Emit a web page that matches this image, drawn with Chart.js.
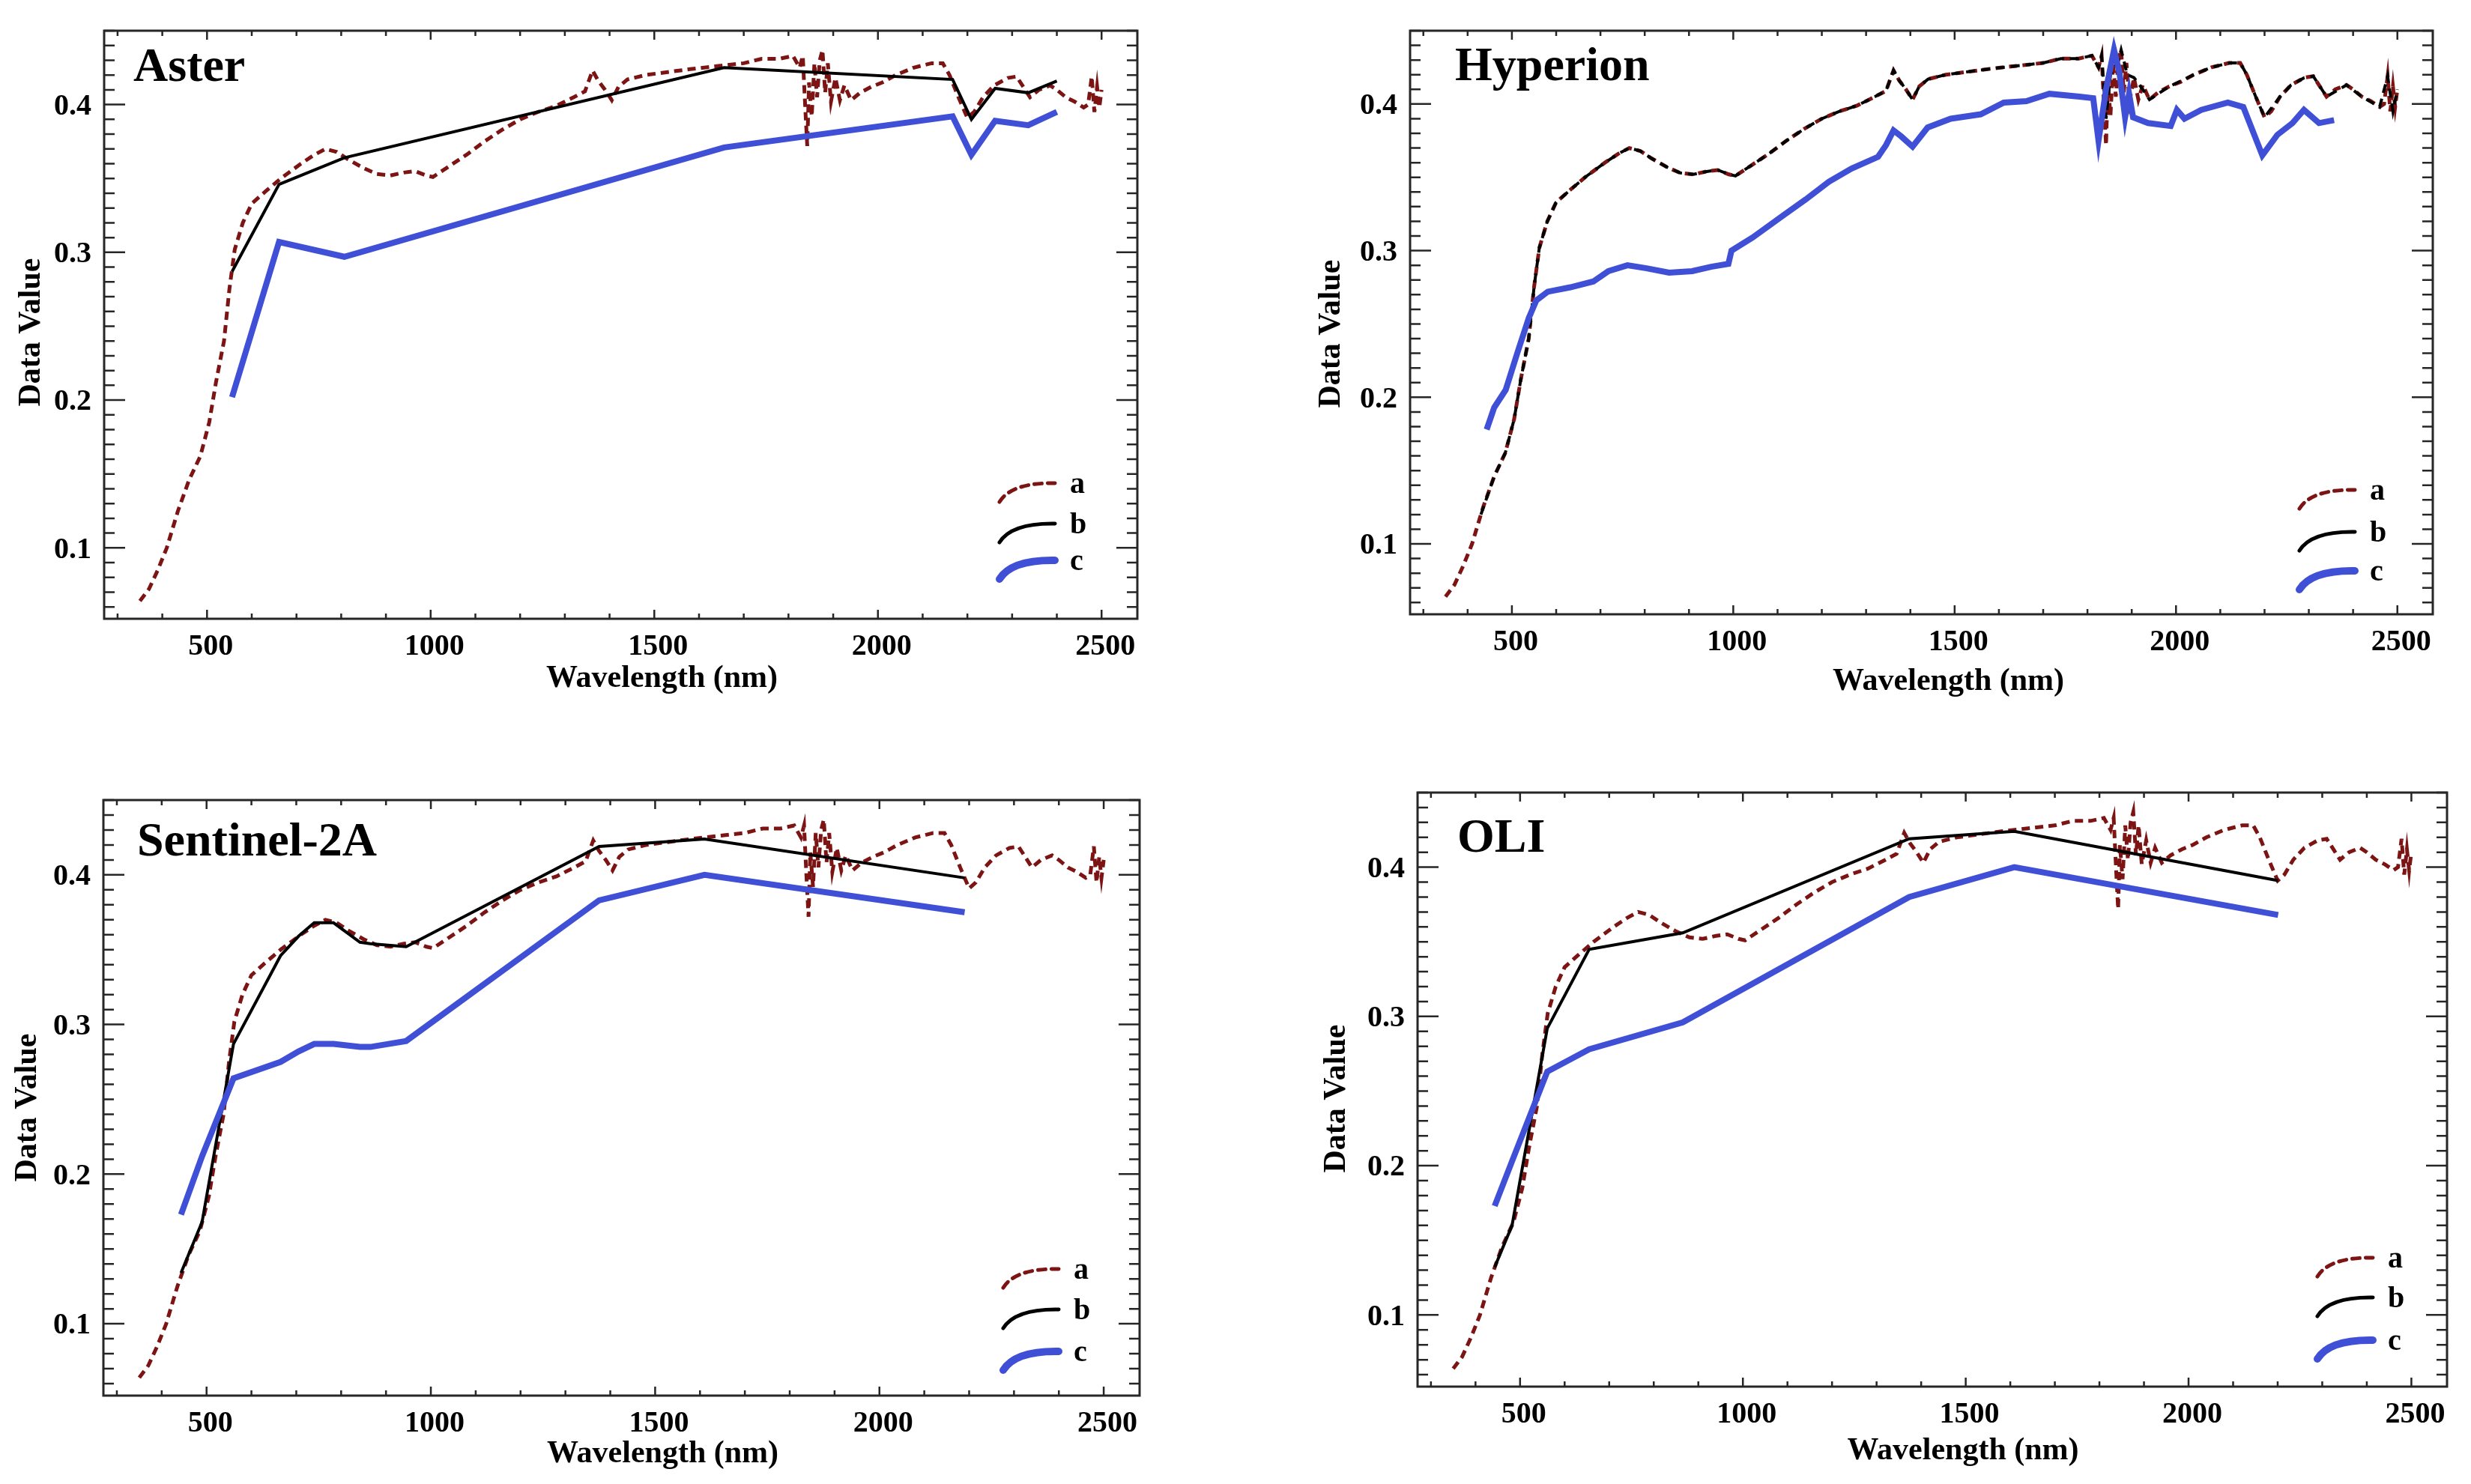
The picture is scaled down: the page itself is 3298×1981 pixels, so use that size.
<!DOCTYPE html>
<html>
<head>
<meta charset="utf-8">
<script src="https://cdn.jsdelivr.net/npm/chart.js@4.4.1/dist/chart.umd.min.js"></script>
<style>
  html, body { margin: 0; padding: 0; background: #fff; }
  #fig { position: relative; width: 3298px; height: 1981px; overflow: hidden; }
  #fig canvas { position: absolute; }
</style>
</head>
<body>
<div id="fig"></div>
<script>
// ---- shared spectrum (a) ----
const spectrumNm = [350, 370, 390, 410, 435, 460, 485, 505, 520, 538, 550, 562, 580, 600, 630, 665, 710, 740, 765, 790,
    815, 850, 880, 910, 940, 965, 990, 1005, 1040, 1080, 1120, 1160, 1200, 1240, 1280, 1320, 1345, 1362, 1375, 1390,
    1405, 1420, 1440, 1480, 1530, 1580, 1640, 1700, 1740, 1780, 1810, 1825, 1832, 1838, 1842, 1846, 1852, 1858, 1864, 1870,
    1876, 1882, 1888, 1895, 1905, 1915, 1925, 1940, 1960, 1985, 2010, 2040, 2080, 2120, 2145, 2160, 2180, 2200, 2215, 2235,
    2260, 2290, 2310, 2325, 2340, 2360, 2385, 2400, 2420, 2440, 2460, 2470, 2478, 2484, 2490, 2495, 2500];
const spectrumA = [0.064, 0.072, 0.085, 0.100, 0.125, 0.146, 0.162, 0.185, 0.212, 0.240, 0.275, 0.302, 0.320, 0.333, 0.341, 0.350, 0.360, 0.366, 0.370, 0.368,
    0.363, 0.357, 0.353, 0.352, 0.354, 0.355, 0.352, 0.351, 0.358, 0.366, 0.375, 0.383, 0.390, 0.395, 0.399, 0.405, 0.409, 0.423, 0.416, 0.410,
    0.403, 0.412, 0.417, 0.420, 0.422, 0.424, 0.426, 0.428, 0.431, 0.431, 0.433, 0.425, 0.433, 0.395, 0.372, 0.415, 0.392, 0.428, 0.405, 0.430,
    0.437, 0.408, 0.428, 0.402, 0.418, 0.403, 0.413, 0.403, 0.408, 0.412, 0.415, 0.420, 0.425, 0.428, 0.428, 0.420, 0.405, 0.391, 0.395, 0.405,
    0.413, 0.418, 0.419, 0.412, 0.405, 0.410, 0.413, 0.410, 0.405, 0.402, 0.398, 0.400, 0.419, 0.395, 0.412, 0.398, 0.410];

// ---- Aster ----
const asterBands = [556, 661, 807, 1656, 2167, 2209, 2262, 2336, 2400];
const asterB = [0.287, 0.346, 0.364, 0.425, 0.417, 0.390, 0.411, 0.408, 0.416];
const asterC = [0.202, 0.307, 0.297, 0.371, 0.392, 0.366, 0.389, 0.386, 0.395];

// ---- Hyperion ----
const hyperionBandsB = [430, 460, 485, 505, 520, 538, 550, 562, 580, 600, 630, 665, 710, 740, 765, 790, 815, 850, 880, 910,
    940, 965, 990, 1005, 1040, 1080, 1120, 1160, 1200, 1240, 1280, 1320, 1345, 1362, 1375, 1390, 1405, 1420, 1440, 1480,
    1530, 1580, 1640, 1700, 1740, 1780, 1810, 1825, 1832, 1842, 1852, 1870, 1876, 1890, 1905, 1925, 1940, 1985, 2040, 2080,
    2120, 2145, 2160, 2180, 2200, 2235, 2260, 2290, 2310, 2325, 2340, 2385, 2420, 2460, 2478, 2490, 2500];
const hyperionB = [0.120, 0.146, 0.162, 0.185, 0.212, 0.240, 0.275, 0.302, 0.320, 0.333, 0.341, 0.350, 0.360, 0.366, 0.370, 0.368, 0.363, 0.357, 0.353, 0.352,
    0.354, 0.355, 0.352, 0.351, 0.358, 0.366, 0.375, 0.383, 0.390, 0.395, 0.399, 0.405, 0.409, 0.423, 0.416, 0.410, 0.403, 0.412, 0.417, 0.420,
    0.422, 0.424, 0.426, 0.428, 0.431, 0.431, 0.433, 0.425, 0.433, 0.390, 0.420, 0.430, 0.437, 0.420, 0.418, 0.410, 0.403, 0.412, 0.420, 0.425,
    0.428, 0.428, 0.420, 0.405, 0.391, 0.405, 0.413, 0.418, 0.419, 0.412, 0.405, 0.413, 0.405, 0.398, 0.419, 0.395, 0.410];
const hyperionBandsC = [443, 460, 486, 512, 538, 555, 581, 632, 684, 718, 761, 804, 855, 907, 950, 989, 996, 1044, 1113, 1164,
    1216, 1267, 1327, 1345, 1362, 1379, 1405, 1439, 1491, 1559, 1611, 1662, 1714, 1782, 1813, 1825, 1842, 1860, 1872, 1885,
    1894, 1903, 1937, 1988, 2002, 2019, 2057, 2117, 2152, 2195, 2229, 2263, 2289, 2323, 2357];
const hyperionC = [0.178, 0.193, 0.205, 0.230, 0.254, 0.266, 0.272, 0.275, 0.279, 0.286, 0.290, 0.288, 0.285, 0.286, 0.289, 0.291, 0.300, 0.309, 0.324, 0.335,
    0.347, 0.356, 0.364, 0.372, 0.382, 0.378, 0.371, 0.384, 0.390, 0.393, 0.401, 0.402, 0.407, 0.405, 0.404, 0.375, 0.410, 0.437, 0.422, 0.391,
    0.407, 0.391, 0.387, 0.385, 0.396, 0.390, 0.396, 0.401, 0.398, 0.365, 0.379, 0.387, 0.396, 0.387, 0.389];

// ---- Sentinel-2A ----
const sentinelBands = [443, 490, 560, 665, 705, 740, 783, 842, 865, 945, 1375, 1610, 2190];
const sentinelB = [0.134, 0.168, 0.287, 0.346, 0.359, 0.368, 0.368, 0.355, 0.354, 0.352, 0.419, 0.424, 0.398];
const sentinelC = [0.173, 0.212, 0.264, 0.275, 0.282, 0.287, 0.287, 0.285, 0.285, 0.289, 0.383, 0.400, 0.375];

// ---- OLI ----
const oliBands = [443, 482, 561, 655, 865, 1373, 1609, 2201];
const oliB = [0.132, 0.160, 0.292, 0.345, 0.356, 0.419, 0.424, 0.391];
const oliC = [0.173, 0.203, 0.263, 0.278, 0.296, 0.380, 0.400, 0.368];

// ---- ticks / labels ----
const xTickLabels = [500, 1000, 1500, 2000, 2500];
const yTickLabels = [0.1, 0.2, 0.3, 0.4];
const legendLabels = ['a', 'b', 'c'];
const xTitle = 'Wavelength (nm)';
const yTitle = 'Data Value';

const RED = '#7d1414';
const BLUE = '#3f50d6';
const SERIF = "'Liberation Serif', 'Times New Roman', serif";

const pairs = (xs, ys) => xs.map((v, i) => ({ x: v, y: ys[i] }));

// border, inward ticks, panel name, legend and axis titles
const framePlugin = {
    id: 'frame',
    afterDraw(chart, args, o) {
        const { ctx, chartArea: a, scales: { x, y } } = chart;
        ctx.save();
        ctx.strokeStyle = '#262626';
        ctx.lineWidth = 3;
        ctx.strokeRect(a.left, a.top, a.right - a.left, a.bottom - a.top);

        ctx.lineWidth = 2.5;
        ctx.beginPath();
        for (let v = 300; v <= 2500; v += 100) {
            const px = x.getPixelForValue(v);
            const len = v % 500 === 0 ? 12 : 7;
            ctx.moveTo(px, a.bottom); ctx.lineTo(px, a.bottom - len);
            ctx.moveTo(px, a.top); ctx.lineTo(px, a.top + len);
        }
        for (let i = 6; i <= 45; i++) {
            const py = y.getPixelForValue(i / 100);
            const len = i % 10 === 0 ? 28 : 14;
            ctx.moveTo(a.left, py); ctx.lineTo(a.left + len, py);
            ctx.moveTo(a.right, py); ctx.lineTo(a.right - len, py);
        }
        ctx.stroke();

        ctx.fillStyle = '#000';
        ctx.font = 'bold 64px ' + SERIF;
        ctx.textAlign = 'left';
        ctx.textBaseline = 'alphabetic';
        ctx.fillText(o.name, a.left + o.nameDx, a.top + o.nameDy);

        // legend
        const lx = a.right - o.legDx;
        const styles = [
            { color: RED, width: 5, dash: [10, 8] },
            { color: '#000', width: 5, dash: [] },
            { color: BLUE, width: 10, dash: [] }
        ];
        legendLabels.forEach((lab, i) => {
            const cy = a.bottom - o.legDy[i];
            const s = styles[i];
            ctx.strokeStyle = s.color;
            ctx.lineWidth = s.width;
            ctx.lineCap = 'round';
            ctx.setLineDash(s.dash);
            ctx.beginPath();
            ctx.moveTo(lx - 94, cy + 22);
            ctx.quadraticCurveTo(lx - 78, cy - 4, lx - 20, cy - 3);
            ctx.stroke();
            ctx.setLineDash([]);
            ctx.fillStyle = '#000';
            ctx.font = 'bold 40px ' + SERIF;
            ctx.textBaseline = 'middle';
            ctx.fillText(lab, lx, cy);
        });

        // axis titles
        ctx.font = 'bold 42px ' + SERIF;
        ctx.textAlign = 'center';
        ctx.textBaseline = 'middle';
        ctx.fillText(xTitle, (a.left + a.right) / 2 + o.xtDx, a.bottom + o.xtDy);
        ctx.translate(o.ytX, (a.top + a.bottom) / 2 + o.ytDy);
        ctx.rotate(-Math.PI / 2);
        ctx.fillText(yTitle, 0, 0);
        ctx.restore();
    }
};

function makePanel(p) {
    const canvas = document.createElement('canvas');
    canvas.width = p.cw;
    canvas.height = p.ch;
    canvas.style.left = p.cx + 'px';
    canvas.style.top = p.cy + 'px';
    canvas.style.width = p.cw + 'px';
    canvas.style.height = p.ch + 'px';
    document.getElementById('fig').appendChild(canvas);

    const yw = p.L - p.cx;
    const xh = 100;
    new Chart(canvas.getContext('2d'), {
        type: 'line',
        data: {
            datasets: [
                { label: 'c', data: pairs(p.bandsC, p.c), borderColor: BLUE, borderWidth: 8, order: 0 },
                { label: 'b', data: pairs(p.bandsB, p.b), borderColor: '#000', borderWidth: 4,
                  borderDash: p.dashedB ? [12, 8] : [], order: 1 },
                { label: 'a', data: pairs(spectrumNm, spectrumA), borderColor: RED, borderWidth: 5,
                  borderDash: [11, 7], order: 2 }
            ]
        },
        options: {
            responsive: false,
            animation: false,
            devicePixelRatio: 1,
            layout: {
                padding: { left: 0, top: p.T - p.cy, right: p.cx + p.cw - p.R, bottom: p.cy + p.ch - p.B - xh }
            },
            elements: { point: { radius: 0 }, line: { tension: 0, borderCapStyle: 'butt' } },
            plugins: {
                legend: { display: false },
                tooltip: { enabled: false },
                frame: p.frame
            },
            scales: {
                x: {
                    type: 'linear', min: 270, max: 2580,
                    afterFit: s => { s.height = xh; },
                    afterBuildTicks: s => { s.ticks = xTickLabels.map(v => ({ value: v })); },
                    grid: { display: false, drawTicks: false },
                    border: { display: false },
                    ticks: { color: '#000', font: { family: SERIF, size: 40, weight: 'bold' },
                             padding: 14, maxRotation: 0, autoSkip: false, labelOffset: 5,
                             callback: v => String(v) }
                },
                y: {
                    type: 'linear', min: 0.052, max: 0.45,
                    afterFit: s => { s.width = yw; },
                    afterBuildTicks: s => { s.ticks = yTickLabels.map(v => ({ value: v })); },
                    grid: { display: false, drawTicks: false },
                    border: { display: false },
                    ticks: { color: '#000', font: { family: SERIF, size: 40, weight: 'bold' },
                             padding: 17, autoSkip: false, labelOffset: 3,
                             callback: v => v.toFixed(1) }
                }
            }
        },
        plugins: [framePlugin]
    });
}

makePanel({ cx: 0, cy: 0, cw: 1649, ch: 990, L: 139, T: 30, R: 1518, B: 826,
    bandsB: asterBands, b: asterB, bandsC: asterBands, c: asterC,
    frame: { name: 'Aster', nameDx: 39, nameDy: 67, legDx: 90, legDy: [178, 124, 75],
             xtDx: 55, xtDy: 80, ytX: 42, ytDy: 10 } });

makePanel({ cx: 1649, cy: 0, cw: 1649, ch: 990, L: 1882, T: 32, R: 3247, B: 820,
    bandsB: hyperionBandsB, b: hyperionB, bandsC: hyperionBandsC, c: hyperionC, dashedB: true,
    frame: { name: 'Hyperion', nameDx: 60, nameDy: 66, legDx: 84, legDy: [163, 107, 55],
             xtDx: 36, xtDy: 90, ytX: 128, ytDy: 15 } });

makePanel({ cx: 0, cy: 990, cw: 1649, ch: 991, L: 138, T: 1068, R: 1521, B: 1863,
    bandsB: sentinelBands, b: sentinelB, bandsC: sentinelBands, c: sentinelC,
    frame: { name: 'Sentinel-2A', nameDx: 45, nameDy: 74, legDx: 88, legDy: [166, 112, 56],
             xtDx: 55, xtDy: 78, ytX: 37, ytDy: 13 } });

makePanel({ cx: 1649, cy: 990, cw: 1649, ch: 991, L: 1892, T: 1058, R: 3266, B: 1851,
    bandsB: oliBands, b: oliB, bandsC: oliBands, c: oliC,
    frame: { name: 'OLI', nameDx: 53, nameDy: 79, legDx: 79, legDy: [169, 116, 59],
             xtDx: 41, xtDy: 86, ytX: 135, ytDy: 12 } });
</script>
</body>
</html>
